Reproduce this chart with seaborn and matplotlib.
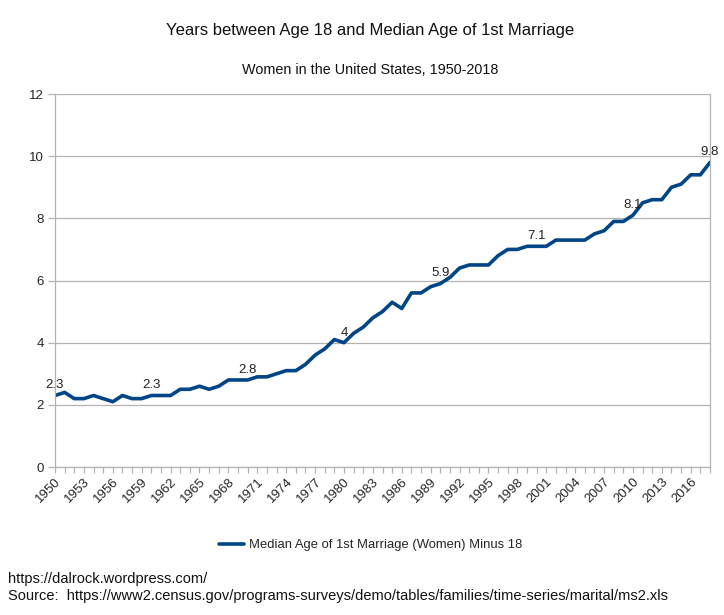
import matplotlib
matplotlib.use("Agg")
import matplotlib.pyplot as plt
import seaborn as sns
import pandas as pd
import numpy as np
from matplotlib.ticker import MultipleLocator

years = list(range(1950, 2019))
median_age = [20.3, 20.4, 20.2, 20.2, 20.3, 20.2, 20.1, 20.3, 20.2, 20.2,
              20.3, 20.3, 20.3, 20.5, 20.5, 20.6, 20.5, 20.6, 20.8, 20.8,
              20.8, 20.9, 20.9, 21.0, 21.1, 21.1, 21.3, 21.6, 21.8, 22.1,
              22.0, 22.3, 22.5, 22.8, 23.0, 23.3, 23.1, 23.6, 23.6, 23.8,
              23.9, 24.1, 24.4, 24.5, 24.5, 24.5, 24.8, 25.0, 25.0, 25.1,
              25.1, 25.1, 25.3, 25.3, 25.3, 25.3, 25.5, 25.6, 25.9, 25.9,
              26.1, 26.5, 26.6, 26.6, 27.0, 27.1, 27.4, 27.4, 27.8]
years_minus18 = [round(a - 18, 1) for a in median_age]
label_years = [1950, 1960, 1970, 1980, 1990, 2000, 2010, 2018]
series_name = "Median Age of 1st Marriage (Women) Minus 18"

df = pd.DataFrame({"Year": years, series_name: years_minus18})

sns.set_theme(style="white")
plt.rcParams['font.family'] = ['Liberation Sans', 'DejaVu Sans']

fig = plt.figure(figsize=(7.24, 6.15), dpi=100)
ax = fig.add_axes([55/724, 1-467/615, (710-55)/724, (467-94)/615])

sns.lineplot(data=df, x="Year", y=series_name, ax=ax, color="#004586",
             linewidth=2.6, label=series_name)

ax.set_xlim(1950, 2018)
ax.set_ylim(0, 12)
ax.yaxis.set_major_locator(MultipleLocator(2))
ax.grid(axis="y", color="#b3b3b3", linewidth=0.9)
ax.set_axisbelow(True)
ax.set_xticks(list(range(1950, 2017, 3)))
ax.xaxis.set_minor_locator(MultipleLocator(1))
ax.tick_params(axis="x", which="both", bottom=True, length=4, color="#b3b3b3", width=0.9, labelsize=9.5, pad=2)
ax.tick_params(axis="y", which="both", left=True, length=5, color="#b3b3b3", width=0.9, labelsize=9.5, pad=3)
for lab in ax.get_xticklabels():
    lab.set_rotation(45)
    lab.set_ha("right")
    lab.set_rotation_mode("anchor")
ax.set_xlabel("")
ax.set_ylabel("")
for s in ["top"]:
    ax.spines[s].set_visible(False)
for s in ["left", "right", "bottom"]:
    ax.spines[s].set_color("#b3b3b3")
    ax.spines[s].set_linewidth(0.9)

for y, v in zip(years, years_minus18):
    if y in label_years:
        ax.annotate(f"{v:g}", (y, v), xytext=(0, 3), textcoords="offset points",
                    ha="center", va="bottom", fontsize=9.5, color="#222222")

leg = ax.legend(loc="center", bbox_to_anchor=((370.5-55)/655, 1-(545-94)/(467-94)),
                frameon=False, fontsize=9.4, handlelength=1.9, handletextpad=0.4)

fig.text(370/724, 1-30/615, "Years between Age 18 and Median Age of 1st Marriage",
         ha="center", va="center", fontsize=12, color="#111111")
fig.text(370/724, 1-70/615, "Women in the United States, 1950-2018",
         ha="center", va="center", fontsize=10.4, color="#111111")
fig.text(8/724, 1-579/615, "https://dalrock.wordpress.com/", ha="left", va="center",
         fontsize=10.5, color="#111111")
fig.text(8/724, 1-596/615,
         "Source:  https://www2.census.gov/programs-surveys/demo/tables/families/time-series/marital/ms2.xls",
         ha="left", va="center", fontsize=10.5, color="#111111")

fig.savefig("out.png", dpi=100)
